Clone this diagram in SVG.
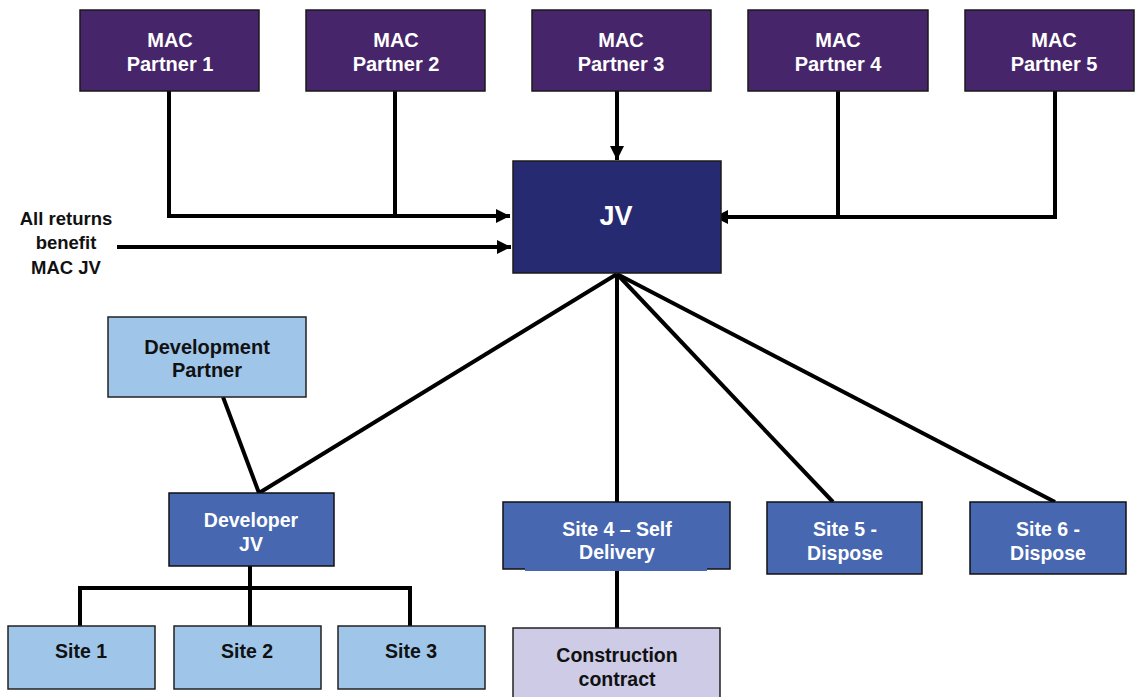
<svg xmlns="http://www.w3.org/2000/svg" width="1135" height="697" viewBox="0 0 1135 697">
<style>
.mac{fill:#46256A;stroke:#1a1a1a;stroke-width:1.5}
.jv{fill:#262A70;stroke:#1a1a1a;stroke-width:1.5}
.mid{fill:#4767B1;stroke:#111;stroke-width:1.5}
.lt{fill:#9FC6E9;stroke:#222;stroke-width:1.5}
.lav{fill:#CDCBE6;stroke:#222;stroke-width:1.5}
.tw{font-family:"Liberation Sans",Arial,sans-serif;font-weight:bold;font-size:19.5px;fill:#fff;text-anchor:middle}
.tb{font-family:"Liberation Sans",Arial,sans-serif;font-weight:bold;font-size:19.5px;fill:#111;text-anchor:middle}
.g{font-size:20px}
.r{font-size:18.5px}
.ln{stroke:#000;stroke-width:4;fill:none}
</style>
<defs>
<marker id="ah" markerUnits="userSpaceOnUse" markerWidth="14" markerHeight="14" viewBox="0 0 14 14" refX="14" refY="7" orient="auto">
<path d="M0,0 L14,7 L0,14 z" fill="#000"/>
</marker>
</defs>
<g id="connectors">
<polyline class="ln" points="169,91 169,216 510,216" marker-end="url(#ah)"/>
<line class="ln" x1="395" y1="91" x2="395" y2="216"/>
<line class="ln" x1="117" y1="247" x2="511" y2="247" marker-end="url(#ah)"/>
<line class="ln" x1="617" y1="87" x2="617" y2="160" marker-end="url(#ah)"/>
<polyline class="ln" points="1055,91 1055,217 714,217" marker-end="url(#ah)"/>
<line class="ln" x1="838" y1="91" x2="838" y2="217"/>
<line class="ln" x1="617" y1="274" x2="259" y2="493"/>
<line class="ln" x1="223" y1="397" x2="259" y2="493"/>
<line class="ln" x1="617" y1="274" x2="617" y2="502"/>
<line class="ln" x1="617" y1="274" x2="833" y2="502"/>
<line class="ln" x1="617" y1="274" x2="1055" y2="502"/>
<line class="ln" x1="617" y1="570" x2="617" y2="628"/>
<line class="ln" x1="250" y1="566" x2="250" y2="626"/>
<polyline class="ln" points="80,626 80,588 410,588 410,626"/>
</g>
<g id="mac1"><rect class="mac" x="80" y="10" width="179" height="81"/><text class="tw g" x="170" y="47">MAC</text><text class="tw g" x="170" y="71">Partner 1</text></g>
<g id="mac2"><rect class="mac" x="306" y="10" width="179" height="81"/><text class="tw g" x="396" y="47">MAC</text><text class="tw g" x="396" y="71">Partner 2</text></g>
<g id="mac3"><rect class="mac" x="532" y="10" width="179" height="81"/><text class="tw g" x="621" y="47">MAC</text><text class="tw g" x="621" y="71">Partner 3</text></g>
<g id="mac4"><rect class="mac" x="748" y="10" width="180" height="81"/><text class="tw g" x="838" y="47">MAC</text><text class="tw g" x="838" y="71">Partner 4</text></g>
<g id="mac5"><rect class="mac" x="965" y="10" width="169" height="81"/><text class="tw g" x="1054" y="47">MAC</text><text class="tw g" x="1054" y="71">Partner 5</text></g>
<g id="jv"><rect class="jv" x="513" y="161" width="208" height="112"/><text class="tw" x="616" y="225" style="font-size:27px">JV</text></g>
<g id="returns"><text class="tb r" x="66" y="225">All returns</text><text class="tb r" x="66" y="249">benefit</text><text class="tb r" x="66" y="274">MAC JV</text></g>
<g id="devpartner"><rect class="lt" x="108" y="317" width="198" height="80"/><text class="tb g" x="207" y="354">Development</text><text class="tb g" x="207" y="377">Partner</text></g>
<g id="devjv"><rect class="mid" x="169" y="493" width="165" height="73"/><text class="tw" x="251" y="527">Developer</text><text class="tw" x="251" y="551">JV</text></g>
<g id="site1"><rect class="lt" x="8" y="626" width="147" height="63"/><text class="tb" x="81" y="658">Site 1</text></g>
<g id="site2"><rect class="lt" x="174" y="626" width="147" height="63"/><text class="tb" x="247" y="658">Site 2</text></g>
<g id="site3"><rect class="lt" x="338" y="626" width="147" height="63"/><text class="tb" x="411" y="658">Site 3</text></g>
<g id="site4"><rect class="mid" x="503" y="502" width="227" height="67"/><rect x="525" y="566" width="182" height="5" fill="#4767B1"/><text class="tw" x="617" y="536">Site 4 – Self</text><text class="tw" x="617" y="559">Delivery</text></g>
<g id="construction"><rect class="lav" x="513" y="628" width="207" height="75"/><text class="tb" x="617" y="662">Construction</text><text class="tb" x="617" y="686">contract</text></g>
<g id="site5"><rect class="mid" x="767" y="502" width="155" height="72"/><text class="tw" x="845" y="536">Site 5 -</text><text class="tw" x="845" y="560">Dispose</text></g>
<g id="site6"><rect class="mid" x="970" y="502" width="156" height="72"/><text class="tw" x="1048" y="536">Site 6 -</text><text class="tw" x="1048" y="560">Dispose</text></g>
</svg>
